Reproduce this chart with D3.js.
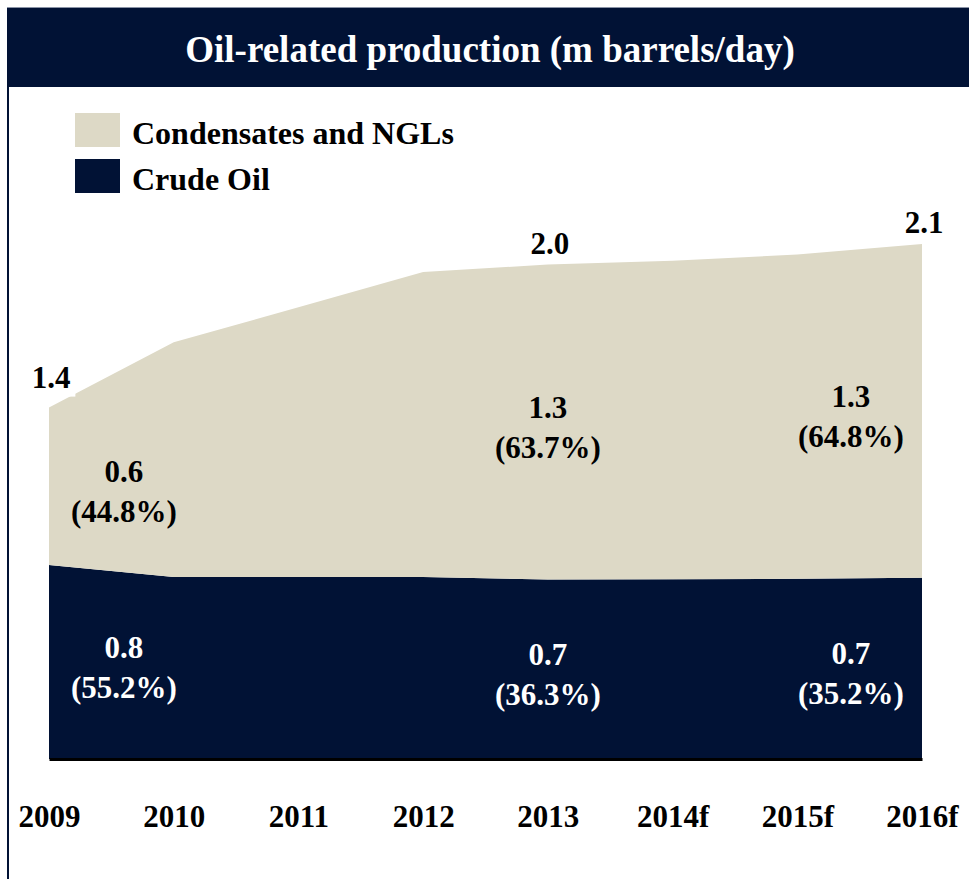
<!DOCTYPE html>
<html>
<head>
<meta charset="utf-8">
<script src="https://cdn.jsdelivr.net/npm/d3@7/dist/d3.min.js"></script>
<style>
  html, body { margin: 0; padding: 0; background: #ffffff; }
  svg { display: block; }
  text { font-family: "Liberation Serif", "Times New Roman", serif; font-weight: bold; }
</style>
</head>
<body>
<svg id="chart" width="969" height="879"></svg>
<script>
// Oil-related production, million barrels per day
const years = ["2009", "2010", "2011", "2012", "2013", "2014f", "2015f", "2016f"];
const crudeOil = [0.7728, 0.725, 0.725, 0.725, 0.7151, 0.716, 0.718, 0.7223];
const condensates = [0.6272, 0.935, 1.075, 1.215, 1.2549, 1.269, 1.292, 1.3297];
const seriesNames = ["Condensates and NGLs", "Crude Oil"];
const labelledYears = ["2009", "2013", "2016f"];
const titleText = "Oil-related production (m barrels/day)";

const NAVY = "#011235";
const TAN = "#ddd9c6";

const svg = d3.select("#chart");
const W = 969, H = 879;

svg.append("rect").attr("width", W).attr("height", H).attr("fill", "#ffffff");

// Title banner and left frame line
svg.append("rect").attr("x", 7).attr("y", 8).attr("width", W - 7).attr("height", 79).attr("fill", NAVY);
svg.append("line").attr("x1", 7).attr("x2", W).attr("y1", 7.5).attr("y2", 7.5)
  .attr("stroke", "#8a93a6").attr("stroke-width", 1);
svg.append("rect").attr("x", 7).attr("y", 8).attr("width", 2).attr("height", H - 8).attr("fill", NAVY);
svg.append("text").attr("x", 490).attr("y", 62).attr("text-anchor", "middle")
  .attr("fill", "#ffffff").style("font-size", "37px").text(titleText);

// Table built from the arrays
const table = years.map((y, i) => ({ year: y, crude: crudeOil[i], cond: condensates[i] }));

const x = d3.scalePoint().domain(years).range([49, 922]);
const y = d3.scaleLinear().domain([0, 2.4]).range([759, 759 - 2.4 * 251]);

const stack = d3.stack().keys(["crude", "cond"]);
const layers = stack(table);
const colors = { crude: NAVY, cond: TAN };

const area = d3.area()
  .x(d => x(d.data.year))
  .y0(d => y(d[0]))
  .y1(d => y(d[1]))
  .curve(d3.curveLinear);

svg.append("g").selectAll("path").data(layers).join("path")
  .attr("d", area)
  .attr("fill", d => colors[d.key]);

// Category axis with a heavy baseline
const axis = d3.axisBottom(x).tickSizeInner(0).tickSizeOuter(0).tickPadding(46);
const axG = svg.append("g").attr("transform", "translate(0,759)").call(axis);
axG.select(".domain").attr("stroke", "#000").attr("stroke-width", 3.2);
axG.selectAll(".tick text").style("font-size", "31px").attr("fill", "#000")
  .style("font-family", "'Liberation Serif', 'Times New Roman', serif").style("font-weight", "bold");

// Legend
const legend = svg.append("g");
const legendItems = [{ name: seriesNames[0], color: TAN }, { name: seriesNames[1], color: NAVY }];
legendItems.forEach((it, i) => {
  const g = legend.append("g").attr("transform", `translate(75, ${113 + i * 46})`);
  g.append("rect").attr("width", 45).attr("height", 34).attr("fill", it.color);
  g.append("text").attr("x", 57).attr("y", 30.5).attr("fill", "#000")
    .style("font-size", "32px").text(it.name);
});

// Value labels
const fmt = d3.format(".1f");
const pct = d3.format(".1%");
const step = x.step();
const labels = svg.append("g");

labelledYears.forEach(yr => {
  const i = years.indexOf(yr);
  const d = table[i];
  const total = d.crude + d.cond;
  let lx = x(yr);
  if (i === 0) lx += step * 0.6;
  if (i === years.length - 1) lx -= step * 0.57;

  const segs = [
    { v: d.cond, lo: d.crude, hi: total, color: "#000" },
    { v: d.crude, lo: 0, hi: d.crude, color: "#fff" }
  ];
  segs.forEach(s => {
    const mid = (y(s.lo) + y(s.hi)) / 2;
    const t = labels.append("text").attr("text-anchor", "middle").attr("fill", s.color)
      .style("font-size", "31px");
    t.append("tspan").attr("x", lx).attr("y", mid - 4).text(fmt(s.v));
    t.append("tspan").attr("x", lx).attr("y", mid + 36).text(`(${pct(s.v / total)})`);
  });

  // total above the stack, on a white backing
  const ty = y(total) - (i === 0 ? 20 : 11);
  const tg = labels.append("g");
  const tt = tg.append("text").attr("x", x(yr) + 2).attr("y", ty).attr("text-anchor", "middle")
    .attr("fill", "#000").style("font-size", "31px").text(fmt(total));
  const bb = tt.node().getBBox();
  tg.insert("rect", "text").attr("x", bb.x - 5).attr("y", bb.y).attr("width", bb.width + 10)
    .attr("height", bb.height + 2).attr("fill", "#fff");
});
</script>
</body>
</html>
